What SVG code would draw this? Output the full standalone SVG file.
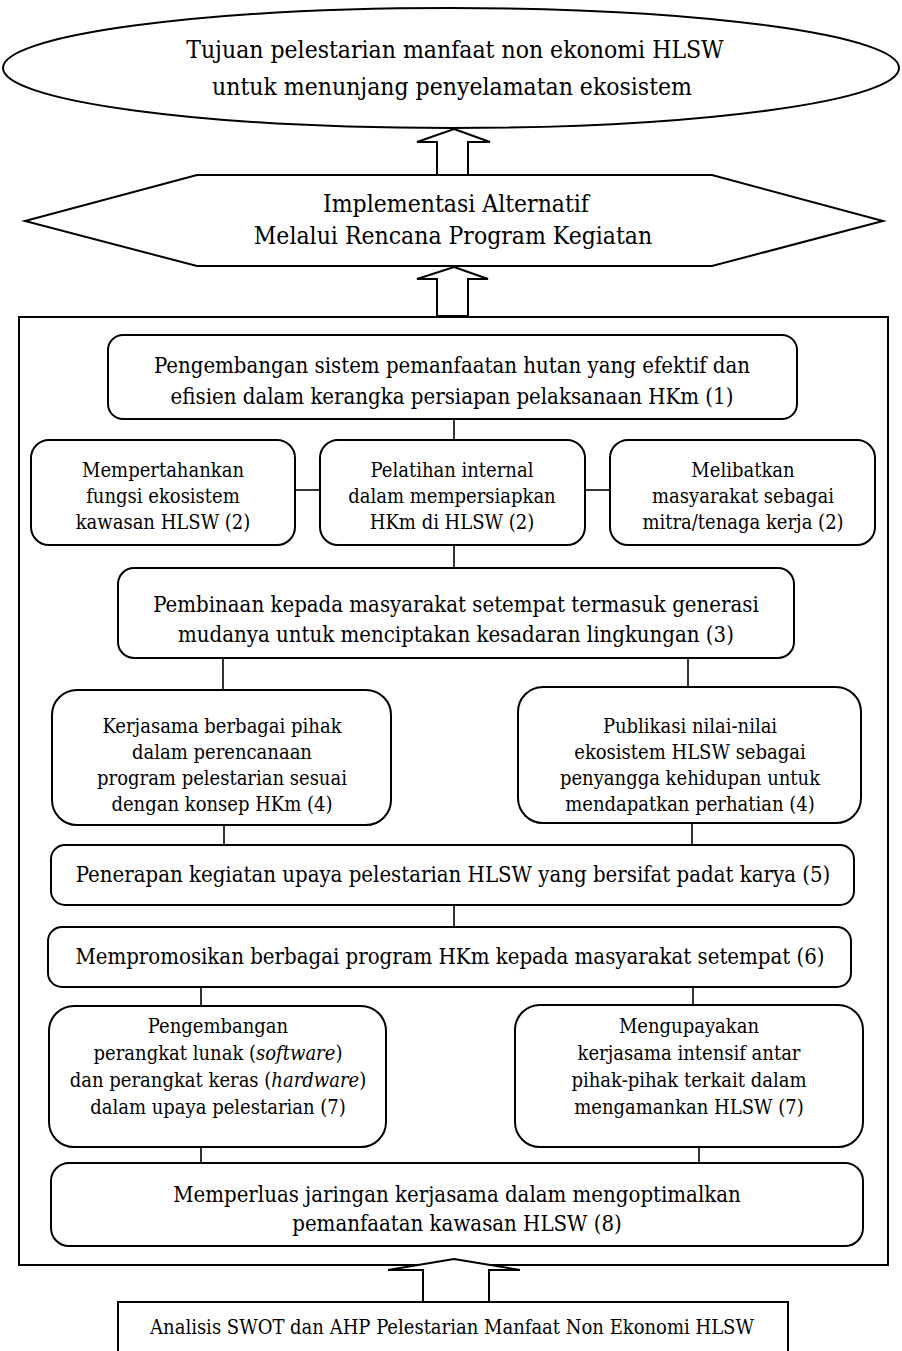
<svg xmlns="http://www.w3.org/2000/svg" width="902" height="1351" viewBox="0 0 902 1351">
  <style>
    .shape { fill: #ffffff; stroke: #000000; stroke-width: 2; }
    .box { fill: #ffffff; stroke: #000000; stroke-width: 2; }
    .link { stroke: #000000; stroke-width: 1.6; fill: none; }
    text { font-family: "DejaVu Serif Condensed", "DejaVu Serif", serif; font-stretch: condensed; fill: #000000; text-anchor: middle; }
    .big { font-size: 24.5px; }
    .w { font-size: 22px; }
    .t { font-size: 20px; }
    .s { font-size: 20px; }
  </style>
  <rect width="902" height="1351" fill="#ffffff"/>

  <!-- goal -->
  <g id="goal">
    <ellipse class="shape" cx="451" cy="68" rx="448" ry="60"/>
    <text class="big" x="455" y="58">Tujuan pelestarian manfaat non ekonomi HLSW</text>
    <text class="big" x="452" y="95">untuk menunjang penyelamatan ekosistem</text>
  </g>

  <!-- implementation -->
  <g id="implementation">
    <polygon class="shape" points="197,175 712,175 883,221 712,266 197,266 25,221"/>
    <text class="big" x="456" y="212">Implementasi Alternatif</text>
    <text class="big" x="453" y="244">Melalui Rencana Program Kegiatan</text>
  </g>

  <!-- program frame -->
  <g id="program-frame">
    <rect class="box" x="19" y="317" width="869" height="948"/>
  </g>

  <!-- connectors -->
  <g id="connectors">
    <line class="link" x1="454" y1="419" x2="454" y2="440"/>
    <line class="link" x1="295" y1="490" x2="320" y2="490"/>
    <line class="link" x1="585" y1="490" x2="610" y2="490"/>
    <line class="link" x1="454" y1="545" x2="454" y2="568"/>
    <line class="link" x1="223" y1="658" x2="223" y2="690"/>
    <line class="link" x1="688" y1="658" x2="688" y2="687"/>
    <line class="link" x1="224" y1="825" x2="224" y2="845"/>
    <line class="link" x1="692" y1="823" x2="692" y2="845"/>
    <line class="link" x1="454" y1="905" x2="454" y2="927"/>
    <line class="link" x1="201" y1="987" x2="201" y2="1006"/>
    <line class="link" x1="693" y1="987" x2="693" y2="1005"/>
    <line class="link" x1="201" y1="1147" x2="201" y2="1163"/>
    <line class="link" x1="699" y1="1147" x2="699" y2="1163"/>
    <!-- hollow block arrows -->
    <polygon class="shape" points="454,129 490,142 468,142 468,175 437,175 437,142 417,142"/>
    <polygon class="shape" points="454,267 488,279 468,279 468,316 437,316 437,279 417,279"/>
    <polygon class="shape" points="454,1259 520,1270 489,1270 489,1302 423,1302 423,1270 388,1270"/>
  </g>

  <g id="node-1">
    <rect class="box" x="108" y="335" width="689" height="84" rx="15"/>
    <text class="w" x="452" y="373">Pengembangan sistem pemanfaatan hutan yang efektif dan</text>
    <text class="w" x="452" y="404">efisien dalam kerangka persiapan pelaksanaan HKm (1)</text>
  </g>

  <g id="node-2a">
    <rect class="box" x="31" y="440" width="264" height="105" rx="18"/>
    <text class="t" x="163" y="477">Mempertahankan</text>
    <text class="t" x="163" y="503">fungsi ekosistem</text>
    <text class="t" x="163" y="529">kawasan HLSW (2)</text>
  </g>

  <g id="node-2b">
    <rect class="box" x="320" y="440" width="265" height="105" rx="18"/>
    <text class="t" x="452" y="477">Pelatihan internal</text>
    <text class="t" x="452" y="503">dalam mempersiapkan</text>
    <text class="t" x="452" y="529">HKm di HLSW (2)</text>
  </g>

  <g id="node-2c">
    <rect class="box" x="610" y="440" width="265" height="105" rx="18"/>
    <text class="t" x="743" y="477">Melibatkan</text>
    <text class="t" x="743" y="503">masyarakat sebagai</text>
    <text class="t" x="743" y="529">mitra/tenaga kerja (2)</text>
  </g>

  <g id="node-3">
    <rect class="box" x="118" y="568" width="676" height="90" rx="16"/>
    <text class="w" x="456" y="612">Pembinaan kepada masyarakat setempat termasuk generasi</text>
    <text class="w" x="456" y="642">mudanya untuk menciptakan kesadaran lingkungan (3)</text>
  </g>

  <g id="node-4a">
    <rect class="box" x="52" y="690" width="339" height="135" rx="25"/>
    <text class="t" x="222" y="733">Kerjasama berbagai pihak</text>
    <text class="t" x="222" y="759">dalam perencanaan</text>
    <text class="t" x="222" y="785">program pelestarian sesuai</text>
    <text class="t" x="222" y="811">dengan konsep HKm (4)</text>
  </g>

  <g id="node-4b">
    <rect class="box" x="518" y="687" width="343" height="136" rx="25"/>
    <text class="t" x="690" y="733">Publikasi nilai-nilai</text>
    <text class="t" x="690" y="759">ekosistem HLSW sebagai</text>
    <text class="t" x="690" y="785">penyangga kehidupan untuk</text>
    <text class="t" x="690" y="811">mendapatkan perhatian (4)</text>
  </g>

  <g id="node-5">
    <rect class="box" x="51" y="845" width="803" height="60" rx="14"/>
    <text class="w" x="453" y="882">Penerapan kegiatan upaya pelestarian HLSW yang bersifat padat karya (5)</text>
  </g>

  <g id="node-6">
    <rect class="box" x="48" y="927" width="803" height="60" rx="14"/>
    <text class="w" x="450" y="964">Mempromosikan berbagai program HKm kepada masyarakat setempat (6)</text>
  </g>

  <g id="node-7a">
    <rect class="box" x="49" y="1006" width="337" height="141" rx="25"/>
    <text class="t" x="218" y="1033">Pengembangan</text>
    <text class="t" x="218" y="1060">perangkat lunak (<tspan font-style="italic">software</tspan>)</text>
    <text class="t" x="218" y="1087">dan perangkat keras (<tspan font-style="italic">hardware</tspan>)</text>
    <text class="t" x="218" y="1114">dalam upaya pelestarian (7)</text>
  </g>

  <g id="node-7b">
    <rect class="box" x="515" y="1005" width="348" height="142" rx="25"/>
    <text class="t" x="689" y="1033">Mengupayakan</text>
    <text class="t" x="689" y="1060">kerjasama intensif antar</text>
    <text class="t" x="689" y="1087">pihak-pihak terkait dalam</text>
    <text class="t" x="689" y="1114">mengamankan HLSW (7)</text>
  </g>

  <g id="node-8">
    <rect class="box" x="51" y="1163" width="812" height="83" rx="18"/>
    <text class="w" x="457" y="1202">Memperluas jaringan kerjasama dalam mengoptimalkan</text>
    <text class="w" x="457" y="1231">pemanfaatan kawasan HLSW (8)</text>
  </g>

  <g id="analysis">
    <rect class="box" x="118" y="1302" width="670" height="70"/>
    <text class="s" x="452" y="1334">Analisis SWOT dan AHP Pelestarian Manfaat Non Ekonomi HLSW</text>
  </g>
</svg>
